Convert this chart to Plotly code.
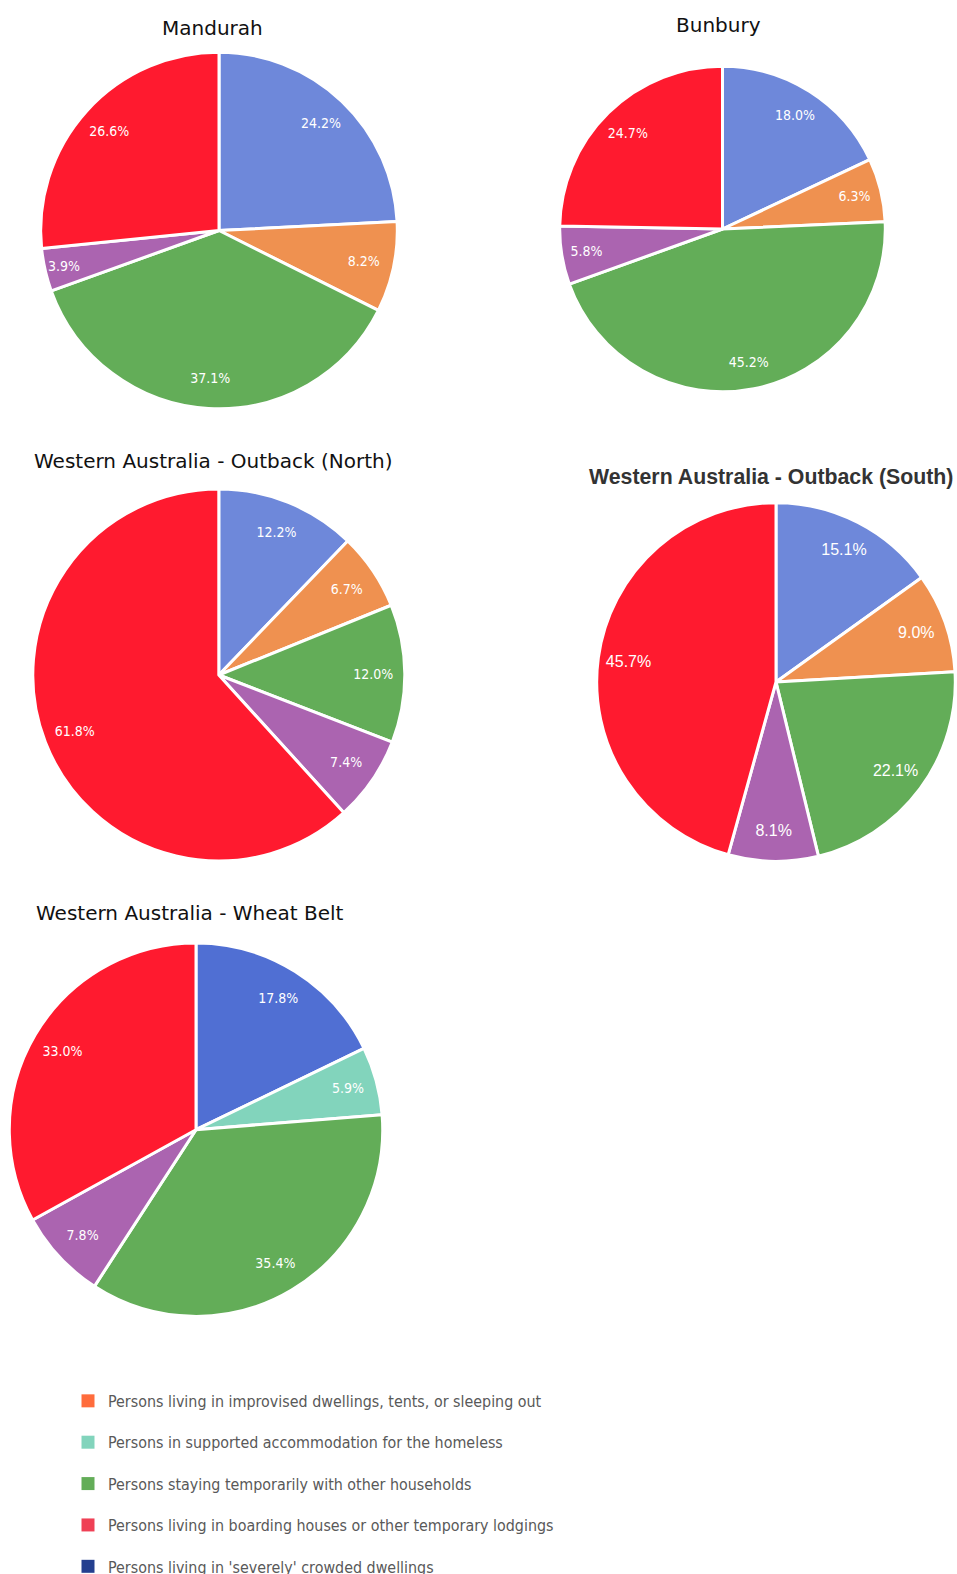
import plotly.graph_objects as go

W, H = 957, 1574

CAT_SEVERE = "Persons living in 'severely' crowded dwellings"
CAT_IMPROV = "Persons living in improvised dwellings, tents, or sleeping out"
CAT_SUPPORT = "Persons in supported accommodation for the homeless"
CAT_STAY = "Persons staying temporarily with other households"
CAT_OTHER = "Persons living in other crowded dwellings"
CAT_BOARD = "Persons living in boarding houses or other temporary lodgings"

regions = ["Mandurah", "Bunbury", "Western Australia - Outback (North)",
           "Western Australia - Outback (South)", "Western Australia - Wheat Belt"]

labels_std = [CAT_SEVERE, CAT_IMPROV, CAT_STAY, CAT_OTHER, CAT_BOARD]
labels_wheat = [CAT_SEVERE, CAT_SUPPORT, CAT_STAY, CAT_OTHER, CAT_BOARD]

mandurah = [24.2, 8.2, 37.1, 3.9, 26.6]
bunbury = [18.0, 6.3, 45.2, 5.8, 24.7]
outback_north = [12.2, 6.7, 12.0, 7.4, 61.8]
outback_south = [15.1, 9.0, 22.1, 8.1, 45.7]
wheat_belt = [17.8, 5.9, 35.4, 7.8, 33.0]

colors_std = ["#6e88da", "#ef9150", "#63ad58", "#ab64b0", "#ff1a2f"]
colors_wheat = ["#506fd3", "#82d4bc", "#63ad58", "#ab64b0", "#ff1a2f"]

legend_labels = [CAT_IMPROV, CAT_SUPPORT, CAT_STAY, CAT_BOARD, CAT_SEVERE]
legend_colors = ["#ff6c3c", "#82d4bc", "#63ad58", "#ef4055", "#243f8f"]

FONT_T = "DejaVu Sans"
FONT_C = "DejaVu Sans Condensed, DejaVu Sans"
FONT_ARIAL = "Liberation Sans, Arial"

# layout geometry in page pixels (centres / radii)
pies = [
    dict(title=regions[0], values=mandurah, labels=labels_std, colors=colors_std,
         cx=219, cy=230.5, r=178.3, tx=212.5, ty=27.5, tfont=FONT_T, tsize=20, tcolor="#111", tbold=False,
         lfont=FONT_C, lsize=14),
    dict(title=regions[1], values=bunbury, labels=labels_std, colors=colors_std,
         cx=722.5, cy=229, r=162.8, tx=718, ty=25.5, tfont=FONT_T, tsize=20, tcolor="#111", tbold=False,
         lfont=FONT_C, lsize=14),
    dict(title=regions[2], values=outback_north, labels=labels_std, colors=colors_std,
         cx=218.8, cy=675, r=186, tx=212.5, ty=461, tfont=FONT_T, tsize=20, tcolor="#111", tbold=False,
         lfont=FONT_C, lsize=14),
    dict(title=regions[3], values=outback_south, labels=labels_std, colors=colors_std,
         cx=776, cy=682, r=179.3, tx=770.5, ty=477, tfont=FONT_ARIAL, tsize=21.3, tcolor="#333", tbold=True,
         lfont=FONT_ARIAL, lsize=16),
    dict(title=regions[4], values=wheat_belt, labels=labels_wheat, colors=colors_wheat,
         cx=196, cy=1129.7, r=186.7, tx=190, ty=913, tfont=FONT_T, tsize=20, tcolor="#111", tbold=False,
         lfont=FONT_C, lsize=14),
]


def px(x):
    return x / W


def py(y):
    return 1 - y / H


fig = go.Figure()
annotations = []
for p in pies:
    dom = dict(x=[px(p["cx"] - p["r"]), px(p["cx"] + p["r"])],
               y=[py(p["cy"] + p["r"]), py(p["cy"] - p["r"])])
    # coloured slices
    fig.add_trace(go.Pie(
        labels=p["labels"], values=p["values"], name=p["title"],
        sort=False, direction="clockwise", rotation=0,
        marker=dict(colors=p["colors"], line=dict(color="white", width=3)),
        textinfo="none", domain=dom, showlegend=False,
    ))
    # percentage labels, placed in an outer ring like the original
    fig.add_trace(go.Pie(
        labels=p["labels"], values=p["values"], name=p["title"],
        sort=False, direction="clockwise", rotation=0, hole=0.66,
        marker=dict(colors=["rgba(0,0,0,0)"] * len(p["values"]), line=dict(width=0)),
        texttemplate="%{value:.1f}%", textposition="inside",
        insidetextorientation="horizontal",
        textfont=dict(family=p["lfont"], size=p["lsize"], color="white"),
        domain=dom, showlegend=False, hoverinfo="skip",
    ))
    t = "<b>%s</b>" % p["title"] if p["tbold"] else p["title"]
    annotations.append(dict(
        text=t, x=px(p["tx"]), y=py(p["ty"]), xref="paper", yref="paper",
        xanchor="center", yanchor="middle", showarrow=False,
        font=dict(family=p["tfont"], size=p["tsize"], color=p["tcolor"]),
    ))

for i, (lab, col) in enumerate(zip(legend_labels, legend_colors)):
    fig.add_trace(go.Scatter(
        x=[None], y=[None], mode="markers", name=lab, legendgroup="g%d" % i,
        marker=dict(symbol="square", size=13, color=col),
        showlegend=True,
    ))

fig.update_layout(
    width=W, height=H, margin=dict(l=0, r=0, t=0, b=0, autoexpand=False),
    paper_bgcolor="white", plot_bgcolor="white",
    xaxis=dict(visible=False), yaxis=dict(visible=False),
    annotations=annotations,
    showlegend=True,
    legend=dict(
        x=px(68), y=py(1384), xanchor="left", yanchor="top",
        font=dict(family=FONT_C, size=15.9, color="#595959"),
        tracegroupgap=17.7, bgcolor="rgba(0,0,0,0)",
    ),
)

fig.write_html("out.html", config={"displayModeBar": False},
               post_script="document.body.style.margin='0';")
